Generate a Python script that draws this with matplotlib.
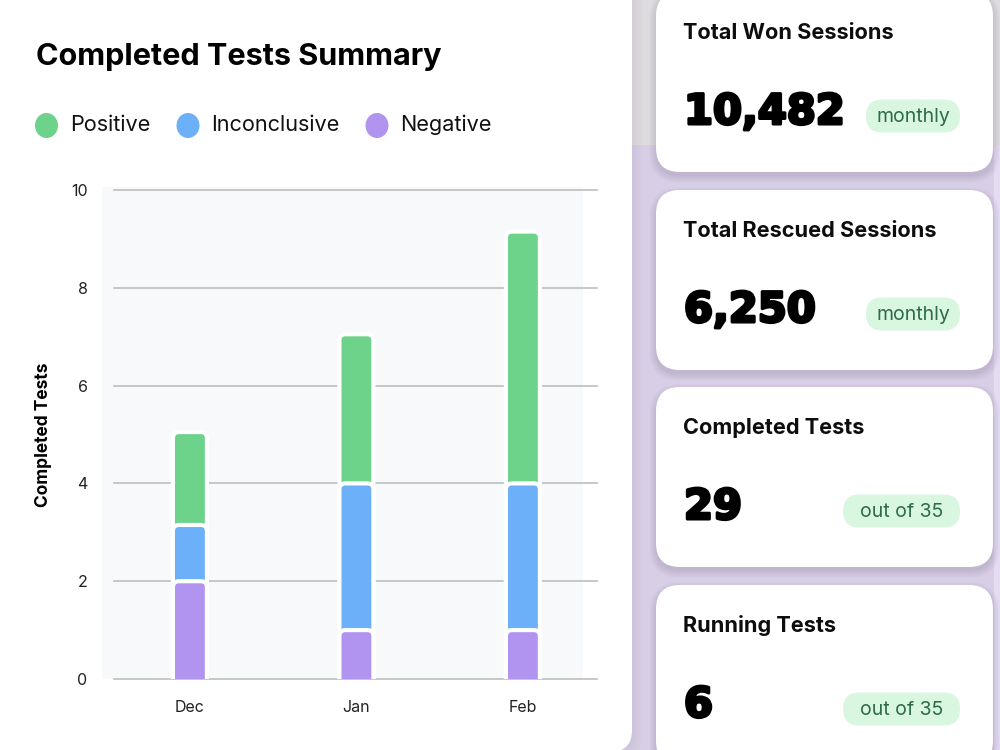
import matplotlib
matplotlib.use('Agg')
import matplotlib.pyplot as plt
from matplotlib.patches import FancyBboxPatch, Ellipse, Rectangle
import matplotlib.patheffects as pe

# ---------------- data ----------------
months = ['Dec', 'Jan', 'Feb']
negative = [2, 1, 1]
inconclusive = [1.15, 3, 3]
positive = [1.9, 3.05, 5.15]
series_names = ['Positive', 'Inconclusive', 'Negative']
series_colors = ['#6dd28a', '#6bb0f8', '#b094f0']
yticks = [0, 2, 4, 6, 8, 10]

card_titles = ['Total Won Sessions', 'Total Rescued Sessions', 'Completed Tests', 'Running Tests']
card_values = ['10,482', '6,250', '29', '6']
card_badges = ['monthly', 'monthly', 'out of 35', 'out of 35']

# ---------------- figure ----------------
W, H = 1000, 750
fig = plt.figure(figsize=(W / 100, H / 100), dpi=100)
fig.patch.set_facecolor('#d8cee6')
plt.rcParams['font.family'] = ['Inter', 'DejaVu Sans']


def rrect(x0, y0, x1, y1, r, color, z, alpha=1.0):
    p = FancyBboxPatch((x0 / W, 1 - y1 / H), (x1 - x0) / W, (y1 - y0) / H,
                       boxstyle=f"round,pad=0,rounding_size={r / W}",
                       mutation_aspect=W / H, transform=fig.transFigure,
                       facecolor=color, edgecolor='none', zorder=z, alpha=alpha)
    fig.add_artist(p)
    return p


def rect(x0, y0, x1, y1, color, z, alpha=1.0):
    fig.add_artist(Rectangle((x0 / W, 1 - y1 / H), (x1 - x0) / W, (y1 - y0) / H,
                             transform=fig.transFigure, facecolor=color,
                             edgecolor='none', zorder=z, alpha=alpha))


# background zones
rect(600, 0, 1000, 145, '#dedcdf', 0)
rect(994, 145, 1000, 750, '#e6dcf2', 0)

# left panel shadow + panel
for k in range(6):
    rrect(-40, -30, 633 + 2 * k, 752 + k, 22, '#8f849f', 1, alpha=0.025)
rrect(-40, -30, 632, 752, 22, 'white', 2)

# plot background
rect(102, 187, 583, 679, '#f8f9fb', 3)

# cards
card_tops = [-8, 190, 387, 585]
for i, top in enumerate(card_tops):
    bot = top + 180
    for k in range(8):
        rrect(656 - k, top - k + 4, 993 + k, bot + k + 4, 24 + k, '#7d6f95', 1, alpha=0.03)
    rrect(656, top, 993, bot, 24, 'white', 3)
    fig.text(683 / W, 1 - (top + 47) / H, card_titles[i], fontsize=15.6,
             fontweight='bold', color='#0d0d0d', va='baseline', ha='left', zorder=5)
    fig.text(684 / W, 1 - (top + 132) / H, card_values[i], fontsize=30,
             fontweight='bold', color='black', va='baseline', ha='left',
             family=['DejaVu Sans'], zorder=5,
             path_effects=[pe.withStroke(linewidth=2.2, foreground='black')])
    bx1 = 960
    bx0 = 866 if card_badges[i] == 'monthly' else 843
    cy = top + 124
    rrect(bx0, cy - 16.5, bx1, cy + 16.5, 16.5, '#d9f6e0', 4)
    fig.text((bx0 + bx1) / 2 / W, 1 - (cy + 1) / H, card_badges[i], fontsize=14,
             color='#2e6b47', va='center', ha='center', zorder=5)

# title
fig.text(36 / W, 1 - 57 / H, 'Completed Tests Summary', fontsize=22,
         fontweight='bold', color='black', va='center', ha='left', zorder=5)

# legend
leg_x = [46.5, 188, 377]
for name, col, lx in zip(series_names, series_colors, leg_x):
    fig.add_artist(Ellipse((lx / W, 1 - 125.5 / H), 23 / W, 25 / H,
                           transform=fig.transFigure, facecolor=col,
                           edgecolor='none', zorder=5))
    fig.text((lx + 23.5) / W, 1 - 125 / H, name, fontsize=15.6, color='#111111',
             va='center', ha='left', zorder=5)

# axes
ax = fig.add_axes([114 / W, (H - 679) / H, 483 / W, 489 / H])
ax.set_zorder(4)
ax.patch.set_visible(False)
for s in ax.spines.values():
    s.set_visible(False)
x0lim, x1lim = -0.456, 2.445
ax.set_xlim(x0lim, x1lim)
ax.set_ylim(0, 10)
ax.set_yticks(yticks)
ax.set_yticklabels([str(t) for t in yticks])
ax.set_xticks(range(len(months)))
ax.set_xticklabels(months)
ax.tick_params(axis='y', length=0, pad=19, labelsize=11.5, labelcolor='#222222')
ax.tick_params(axis='x', length=0, pad=15, labelsize=11.5, labelcolor='#222222')
for t in yticks:
    ax.axhline(t, color='#bdbdbd', lw=1.2, zorder=1, clip_on=False)

px_x = 483 / (x1lim - x0lim)
px_y = 489 / 10
bw = 34 / px_x
r_px = 6
rs = r_px / px_x
asp = (r_px / px_y) / rs

for i in range(len(months)):
    tops = [negative[i] + inconclusive[i] + positive[i],
            negative[i] + inconclusive[i],
            negative[i]]
    for top, col in zip(tops, series_colors):
        p = FancyBboxPatch((i - bw / 2, -1), bw, top + 1,
                           boxstyle=f"round,pad=0,rounding_size={rs}",
                           mutation_aspect=asp, facecolor=col,
                           edgecolor='white', lw=3, zorder=3)
        ax.add_patch(p)

fig.text(44 / W, 1 - 435 / H, 'Completed Tests', rotation=90, fontsize=12.5,
         fontweight='bold', va='center', ha='center', color='black', zorder=5)

fig.savefig('out.png', dpi=100, facecolor=fig.get_facecolor())
